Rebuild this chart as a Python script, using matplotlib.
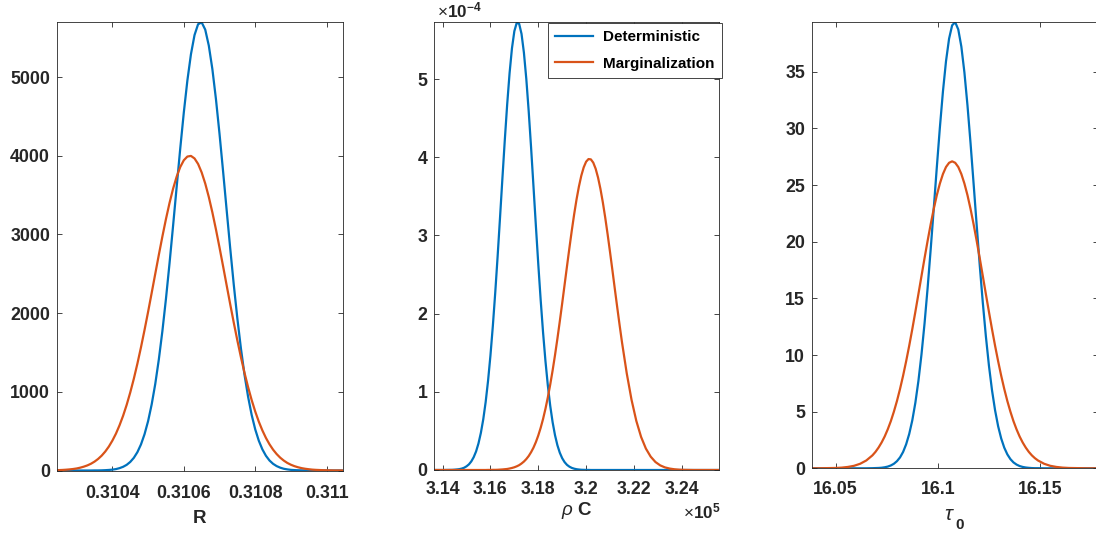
import numpy as np
import matplotlib
matplotlib.use('Agg')
import matplotlib.pyplot as plt

# ---------------- data ----------------
# Panel 1: R
R_x = [0.310244,
       0.31025, 0.31026, 0.31027, 0.31028, 0.31029, 0.31030, 0.31031, 0.31032, 0.31033, 0.31034,
       0.31035, 0.31036, 0.31037, 0.31038, 0.31039, 0.31040, 0.31041, 0.31042, 0.31043, 0.31044,
       0.31045, 0.31046, 0.31047, 0.31048, 0.31049, 0.31050, 0.31051, 0.31052, 0.31053, 0.31054,
       0.31055, 0.31056, 0.31057, 0.31058, 0.31059, 0.31060, 0.31061, 0.31062, 0.31063, 0.31064,
       0.31065, 0.31066, 0.31067, 0.31068, 0.31069, 0.31070, 0.31071, 0.31072, 0.31073, 0.31074,
       0.31075, 0.31076, 0.31077, 0.31078, 0.31079, 0.31080, 0.31081, 0.31082, 0.31083, 0.31084,
       0.31085, 0.31086, 0.31087, 0.31088, 0.31089, 0.31090, 0.31091, 0.31092, 0.31093, 0.31094,
       0.31095, 0.31096, 0.31097, 0.31098, 0.31099, 0.31100, 0.31101, 0.31102, 0.31103, 0.31104,
       0.311045]
R_det = [0, 0, 0, 0, 0, 0, 0, 0, 0, 0, 0, 1, 1, 2, 4, 7, 11, 18, 30, 47,
         72, 109, 161, 233, 331, 461, 628, 840, 1099, 1410, 1772, 2182, 2633, 3113, 3605, 4092, 4550, 4957, 5291, 5534,
         5672, 5695, 5603, 5400, 5101, 4720, 4279, 3802, 3309, 2822, 2358, 1931, 1549, 1217, 938, 707, 523, 379, 269, 187,
         127, 85, 56, 36, 22, 14, 8, 5, 3, 2, 1, 0, 0, 0, 0, 0, 0, 0, 0, 0, 0, 0]
R_marg = [4, 5, 7, 10, 14, 19, 26, 36, 49, 65, 86, 113, 147, 189, 241, 304, 380, 469, 575, 696,
          835, 992, 1166, 1358, 1565, 1786, 2017, 2257, 2499, 2740, 2974, 3196, 3400, 3582, 3735, 3857, 3943, 3990, 3998, 3966,
          3896, 3788, 3647, 3476, 3280, 3064, 2834, 2596, 2353, 2112, 1877, 1652, 1439, 1241, 1060, 896, 750, 621, 510, 414,
          333, 265, 209, 163, 126, 96, 73, 55, 41, 30, 22, 16, 11, 8, 6, 4, 3, 2, 1, 1, 1, 0]

# Panel 2: rho C  (x in units of 1e5, density in units of 1e-7)
RHOC_x = [3.1364, 3.140, 3.142, 3.144,
          3.145, 3.146, 3.147, 3.148, 3.149, 3.150, 3.151, 3.152, 3.153, 3.154,
          3.155, 3.156, 3.157, 3.158, 3.159, 3.160, 3.161, 3.162, 3.163, 3.164,
          3.165, 3.166, 3.167, 3.168, 3.169, 3.170, 3.171, 3.172, 3.173, 3.174,
          3.175, 3.176, 3.177, 3.178, 3.179, 3.180, 3.181, 3.182, 3.183, 3.184,
          3.185, 3.186, 3.187, 3.188, 3.189, 3.190, 3.191, 3.192, 3.193, 3.194,
          3.195, 3.196, 3.197, 3.198, 3.199, 3.200, 3.201, 3.202, 3.203, 3.204,
          3.205, 3.206, 3.207, 3.208, 3.209, 3.210, 3.211, 3.212, 3.213, 3.214,
          3.215,
          3.217, 3.219, 3.221, 3.223, 3.225, 3.227, 3.229, 3.231, 3.233, 3.235,
          3.237, 3.239, 3.241, 3.243, 3.245, 3.247, 3.249, 3.251,
          3.2557]
RHOC_det = [0, 0,
            1, 2, 4, 7, 11, 18, 29, 47, 72, 110, 164, 238, 340, 475, 649, 869, 1140, 1464, 1840, 2265,
            2731, 3224, 3727, 4218, 4676, 5075, 5394, 5613, 5720, 5708, 5578, 5337, 5001, 4588, 4122, 3626,
            3124, 2635, 2177, 1761, 1395, 1082, 821, 611, 445, 317, 221, 151, 101, 66, 43, 27, 17, 10, 6, 3,
            2, 1, 1,
            0, 0, 0, 0, 0, 0, 0, 0, 0, 0, 0, 0, 0, 0, 0, 0, 0, 0, 0, 0, 0, 0, 0, 0, 0, 0, 0, 0, 0, 0, 0, 0, 0]
RHOC_marg = [0, 0, 0, 0, 0, 0, 0, 0, 0, 0, 0, 0, 0, 0, 0, 0, 0, 0,
             1, 1, 2, 2, 3, 5, 7, 10, 13, 19, 26, 35, 47, 62, 83, 108, 140, 179, 228, 286,
             357, 441, 539, 652, 782, 929, 1093, 1273, 1469, 1679, 1901, 2131, 2367, 2603, 2835, 3059, 3269, 3460,
             3626, 3765, 3871, 3943, 3977, 3973, 3931, 3853, 3740, 3595, 3423, 3228, 3015, 2789, 2556, 2319,
             2085, 1856, 1636, 1236, 898, 628, 423, 274, 171, 102, 59, 33, 18, 9, 4, 2, 1,
             0, 0, 0, 0, 0]

# Panel 3: tau_0
TAU_x = [16.0383,
         16.041, 16.044, 16.047, 16.050, 16.053, 16.056, 16.059, 16.062, 16.065, 16.068,
         16.0695, 16.071, 16.0725, 16.074, 16.0755, 16.077, 16.0785, 16.080, 16.0815, 16.083,
         16.0845, 16.086, 16.0875, 16.089, 16.0905, 16.092, 16.0935, 16.095, 16.0965, 16.098,
         16.0995, 16.101, 16.1025, 16.104, 16.1055, 16.107, 16.1085, 16.110, 16.1115, 16.113,
         16.1145, 16.116, 16.1175, 16.119, 16.1205, 16.122, 16.1235, 16.125, 16.1265, 16.128,
         16.1295, 16.131, 16.1325, 16.134, 16.1355, 16.137, 16.1385, 16.140, 16.1415, 16.143,
         16.1445, 16.146, 16.1475, 16.149,
         16.152, 16.155, 16.158, 16.161, 16.164, 16.167, 16.170, 16.173, 16.176,
         16.1782]
TAU_det = [0, 0, 0, 0, 0, 0, 0, 0, 0, 0, 0.01, 0.02, 0.03, 0.05, 0.09, 0.15, 0.25, 0.4, 0.63, 0.96,
           1.44, 2.12, 3.03, 4.23, 5.78, 7.71, 10.05, 12.79, 15.91, 19.32, 22.92, 26.57, 30.08, 33.27, 35.94, 37.93,
           39.11, 39.38, 38.74, 37.23, 34.95, 32.04, 28.7, 25.12, 21.47, 17.92, 14.62, 11.65, 9.06, 6.89,
           5.12, 3.71, 2.63, 1.82, 1.23, 0.81, 0.52, 0.33, 0.2, 0.12, 0.07, 0.04, 0.02, 0.01, 0.01,
           0, 0, 0, 0, 0, 0, 0, 0, 0, 0]
TAU_marg = [0, 0, 0.01, 0.02, 0.03, 0.06, 0.12, 0.22, 0.4, 0.69, 1.14, 1.45, 1.83, 2.28, 2.81, 3.44, 4.16, 5, 5.94, 7,
            8.17, 9.45, 10.82, 12.28, 13.81, 15.38, 16.97, 18.55, 20.08, 21.54, 22.9, 24.11, 25.14, 25.98, 26.6,
            26.97, 27.1, 26.97, 26.6, 25.98, 25.14, 24.11, 22.9, 21.54, 20.08, 18.55, 16.97, 15.38, 13.81, 12.28,
            10.82, 9.45, 8.17, 7, 5.94, 5, 4.16, 3.44, 2.81, 2.28, 1.83, 1.45, 1.14, 0.89, 0.69, 0.4, 0.22, 0.12,
            0.06, 0.03, 0.02, 0.01, 0, 0, 0]

SERIES = ['Deterministic', 'Marginalization']

R_XTICKS = [0.3104, 0.3106, 0.3108, 0.311]
R_XTICKLABELS = ['0.3104', '0.3106', '0.3108', '0.311']
R_YTICKS = [0, 1000, 2000, 3000, 4000, 5000]
R_YTICKLABELS = ['0', '1000', '2000', '3000', '4000', '5000']
RHOC_XTICKS = [3.14, 3.16, 3.18, 3.2, 3.22, 3.24]          # x 1e5
RHOC_XTICKLABELS = ['3.14', '3.16', '3.18', '3.2', '3.22', '3.24']
RHOC_YTICKS = [0, 1, 2, 3, 4, 5]                           # x 1e-4
RHOC_YTICKLABELS = ['0', '1', '2', '3', '4', '5']
TAU_XTICKS = [16.05, 16.1, 16.15]
TAU_XTICKLABELS = ['16.05', '16.1', '16.15']
TAU_YTICKS = [0, 5, 10, 15, 20, 25, 30, 35]
TAU_YTICKLABELS = ['0', '5', '10', '15', '20', '25', '30', '35']
YMAX = [5700, 5.73e-4, 39.4]

# ---------------- style ----------------
plt.rcParams['font.family'] = ['Liberation Sans', 'DejaVu Sans']
plt.rcParams['mathtext.fontset'] = 'custom'
plt.rcParams['mathtext.rm'] = 'Liberation Sans'
plt.rcParams['mathtext.bf'] = 'Liberation Sans:bold'
plt.rcParams['mathtext.it'] = 'Liberation Sans:italic'

BLUE = '#0072BD'
ORANGE = '#D95319'
AX = '#262626'
W, H = 1096, 535

fig = plt.figure(figsize=(W / 100, H / 100), dpi=100)


def pos(l, t, r, b):
    return [l / W, 1 - b / H, (r - l) / W, (b - t) / H]


axs = [fig.add_axes(pos(56.7, 22, 342.7, 470.5)),
       fig.add_axes(pos(434, 22, 719.3, 470)),
       fig.add_axes(pos(811.7, 22, 1097.7, 468.3))]

panels = [
    (np.array(R_x), np.array(R_det), np.array(R_marg),
     R_XTICKS, R_XTICKLABELS, R_YTICKS, R_YTICKLABELS, 10.6),
    (np.array(RHOC_x) * 1e5, np.array(RHOC_det) * 1e-7, np.array(RHOC_marg) * 1e-7,
     [v * 1e5 for v in RHOC_XTICKS], RHOC_XTICKLABELS,
     [v * 1e-4 for v in RHOC_YTICKS], RHOC_YTICKLABELS, 7.7),
    (np.array(TAU_x), np.array(TAU_det), np.array(TAU_marg),
     TAU_XTICKS, TAU_XTICKLABELS, TAU_YTICKS, TAU_YTICKLABELS, 8.9),
]

for ax, (x, yd, ym, xt, xtl, yt, ytl, xp), ymax in zip(axs, panels, YMAX):
    ax.plot(x, yd, color=BLUE, lw=1.6, label=SERIES[0])
    ax.plot(x, ym, color=ORANGE, lw=1.6, label=SERIES[1])
    ax.set_xlim(x[0], x[-1])
    ax.set_ylim(0, ymax)
    ax.set_xticks(xt, xtl, fontweight='bold')
    ax.set_yticks(yt, ytl, fontweight='bold')
    for s in ax.spines.values():
        s.set_color(AX)
        s.set_linewidth(0.6)
    ax.tick_params(direction='in', top=True, right=True, length=3.6, width=0.6,
                   color=AX, labelcolor=AX, labelsize=12.8)
    ax.tick_params(axis='x', pad=xp)
    ax.tick_params(axis='y', pad=4.8)

# axis labels
fig.text(199.7 / W, 1 - 522.7 / H, 'R', fontsize=13.5, fontweight='bold', color=AX,
         ha='center', va='baseline')
fig.text(576.7 / W, 1 - 515 / H, r'$\rho\ \mathbf{C}$', fontsize=13.5, color=AX,
         ha='center', va='baseline')
fig.text(955 / W, 1 - 520 / H, r'$\tau$', fontsize=15, color=AX, ha='right', va='baseline')
fig.text(955 / W, 1 - 529 / H, '0', fontsize=11, fontweight='bold', color=AX,
         ha='left', va='baseline')

# exponent labels
fig.text(437 / W, 1 - 17.3 / H, r'$\times\mathbf{10}^{\mathbf{-4}}$', fontsize=12.3, color=AX,
         ha='left', va='baseline')
fig.text(683 / W, 1 - 518 / H, r'$\times\mathbf{10}^{\mathbf{5}}$', fontsize=12.3, color=AX,
         ha='left', va='baseline')

leg = axs[1].legend(loc='upper right', bbox_to_anchor=(721.7 / W, 1 - 22.7 / H),
                    bbox_transform=fig.transFigure, borderaxespad=0,
                    prop={'weight': 'bold', 'size': 11}, fancybox=False, framealpha=1,
                    edgecolor=AX, borderpad=0.5, labelspacing=0.8, handlelength=2.5,
                    handletextpad=0.6)
leg.get_frame().set_linewidth(0.6)
for t in leg.get_texts():
    t.set_color('black')

fig.savefig('out.png', dpi=100)
